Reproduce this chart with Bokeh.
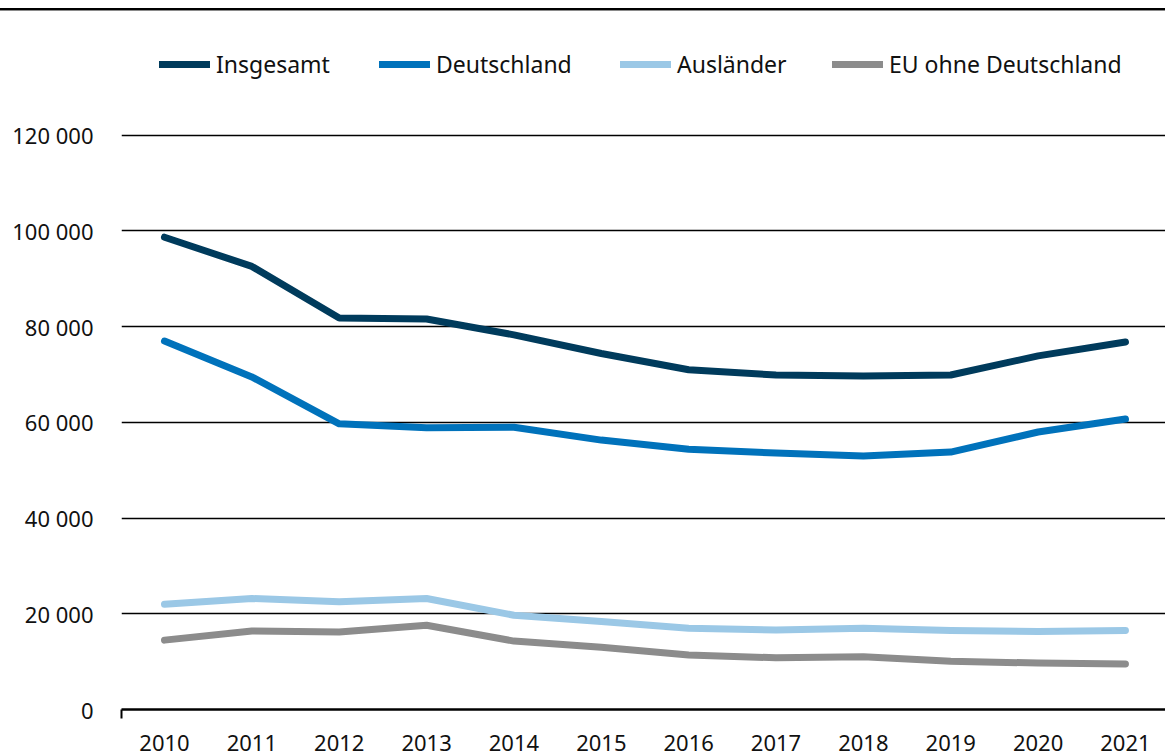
from bokeh.plotting import figure
from bokeh.models import (Range1d, FixedTicker, CustomJSTickFormatter, Legend, LegendItem, Div, Column)
from bokeh.embed import file_html
from bokeh.resources import INLINE

years = [2010, 2011, 2012, 2013, 2014, 2015, 2016, 2017, 2018, 2019, 2020, 2021]
insgesamt = [98700, 92600, 81800, 81600, 78300, 74400, 71000, 69900, 69700, 69900, 73900, 76800]
deutschland = [77000, 69500, 59700, 58900, 59000, 56300, 54400, 53600, 53000, 53800, 58000, 60700]
auslaender = [22000, 23200, 22500, 23200, 19700, 18400, 17000, 16600, 17000, 16500, 16300, 16500]
eu_ohne_de = [14500, 16400, 16200, 17600, 14300, 13000, 11400, 10800, 11000, 10100, 9700, 9500]
y_ticks = [0, 20000, 40000, 60000, 80000, 100000, 120000]

series = [
    ("Insgesamt", insgesamt, "#003B5C"),
    ("Deutschland", deutschland, "#0072BB"),
    ("Ausländer", auslaender, "#9BC8E6"),
    ("EU ohne Deutschland", eu_ohne_de, "#8C8C8C"),
]

FONT = "Noto Sans"
W = 1165

x0 = 2010 - 43 / 87.36
x1 = x0 + 1044 / 87.36

p = figure(width=W, height=744, output_backend="svg", toolbar_location=None,
           x_range=Range1d(x0, x1), y_range=Range1d(0, 145870),
           min_border_left=121, min_border_right=0, min_border_top=0, min_border_bottom=46)
p.outline_line_color = None
p.background_fill_color = "white"
p.border_fill_color = "white"

p.xgrid.grid_line_color = None
p.ygrid.grid_line_color = "black"
p.ygrid.grid_line_width = 1.4
p.ygrid.ticker = FixedTicker(ticks=y_ticks)

p.yaxis.ticker = FixedTicker(ticks=y_ticks)
p.yaxis.formatter = CustomJSTickFormatter(code="return tick.toFixed(0).replace(/\\B(?=(\\d{3})+(?!\\d))/g, ' ');")
p.yaxis.axis_line_color = None
p.yaxis.major_tick_line_color = None
p.yaxis.minor_tick_line_color = None
p.yaxis.major_tick_out = 0
p.yaxis.major_tick_in = 0
p.yaxis.major_label_standoff = 28
p.yaxis.major_label_text_font = FONT
p.yaxis.major_label_text_font_size = "22px"
p.yaxis.major_label_text_color = "#111111"

p.xaxis.ticker = FixedTicker(ticks=years, minor_ticks=[x0])
p.xaxis.axis_line_color = "black"
p.xaxis.axis_line_width = 2.5
p.xaxis.major_tick_line_color = None
p.xaxis.minor_tick_line_color = "black"
p.xaxis.minor_tick_line_width = 2
p.xaxis.minor_tick_out = 9
p.xaxis.minor_tick_in = 0
p.xaxis.major_tick_out = 0
p.xaxis.major_tick_in = 0
p.xaxis.major_label_standoff = 16
p.xaxis.major_label_text_font = FONT
p.xaxis.major_label_text_font_size = "22px"
p.xaxis.major_label_text_color = "#111111"

renderers = []
for name, vals, col in series:
    r = p.line(years, vals, line_color=col, line_width=7, line_cap="round", line_join="round")
    renderers.append(r)

legend_x = [38, 258, 499, 711]
for (name, vals, col), r, lx in zip(series, renderers, legend_x):
    lg = Legend(items=[LegendItem(label=name, renderers=[r])], location=(lx, 629),
                orientation="horizontal", padding=0, margin=0, spacing=0,
                glyph_width=51, glyph_height=20, label_standoff=6,
                border_line_color=None, background_fill_alpha=0,
                label_text_font=FONT, label_text_font_size="23px", label_text_color="#111111")
    p.add_layout(lg, "center")

rule = Div(width=W, height=11, styles={
    "background": "linear-gradient(to bottom, #ffffff 0px, #ffffff 8px, #000000 8px, #000000 10px, #8a8a8a 10px, #8a8a8a 11px)",
    "margin": "0", "padding": "0", "overflow": "hidden"})

layout = Column(rule, p, spacing=0)
open("out.html", "w").write(file_html(layout, INLINE))
